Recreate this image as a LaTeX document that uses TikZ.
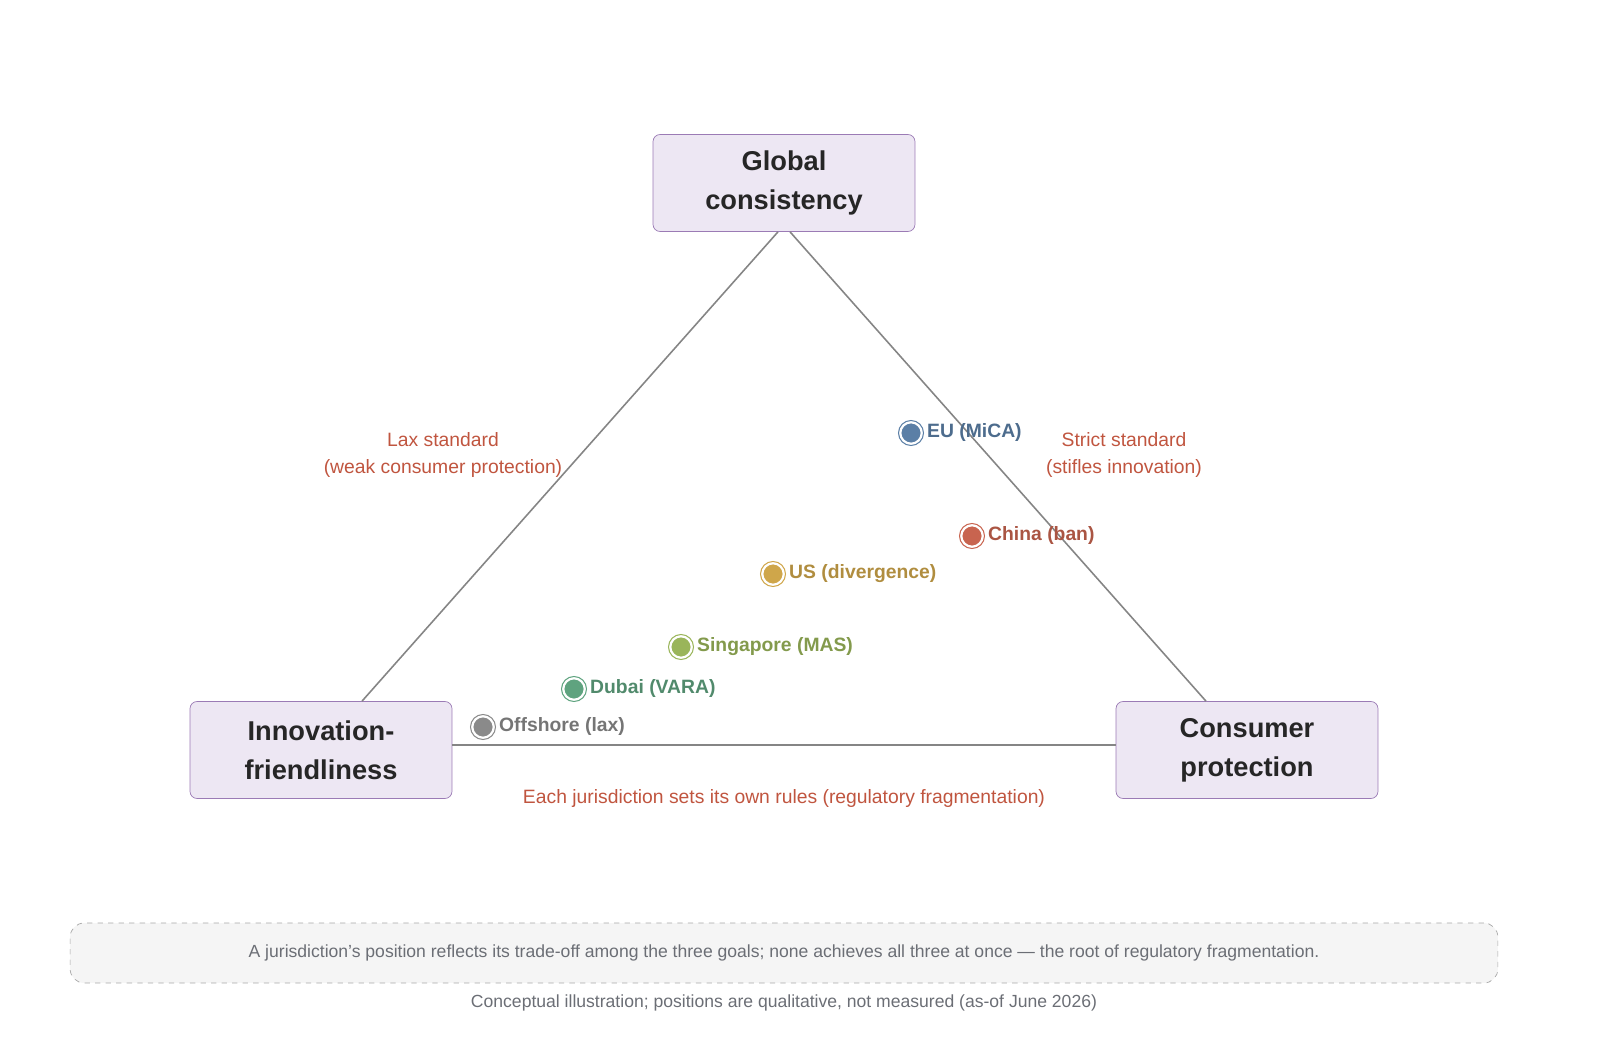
\documentclass[tikz,border=0pt]{standalone}
\usepackage{fontspec}
\setmainfont{Liberation Sans}
\usetikzlibrary{calc}
\definecolor{goalfill}{HTML}{EDE7F3}
\definecolor{goaldraw}{HTML}{9B7BB5}
\definecolor{edgegray}{HTML}{858585}
\definecolor{warnred}{HTML}{C0553F}
\definecolor{notegray}{HTML}{6B6E75}
\definecolor{eucol}{HTML}{5B7FA6}
\definecolor{cncol}{HTML}{C8644F}
\definecolor{uscol}{HTML}{CFA64A}
\definecolor{sgcol}{HTML}{9AB55A}
\definecolor{dbcol}{HTML}{5FA37F}
\definecolor{ofcol}{HTML}{8A8A8A}
\tikzset{
    goal/.style = {draw=goaldraw, fill=goalfill, rounded corners=4pt,
        minimum width=5.24cm, minimum height=1.94cm, align=center,
        font=\fontsize{15.5}{22}\selectfont\bfseries, text=black!85},
    side/.style = {draw=edgegray, line width=0.9pt},
    warn/.style = {text=warnred, align=center, font=\fontsize{11}{15}\selectfont},
    tag/.style = {anchor=west, text=#1!85!black, font=\fontsize{11}{13}\selectfont\bfseries}
}
\newcommand{\juris}[4]{%
    \node[circle, fill=#3, draw=white, line width=1pt, minimum size=0.42cm, inner sep=0pt] (#1) at (#2) {};
    \draw[#3, line width=0.6pt] (#1) circle (0.25cm);
    \node[tag=#3] (#1-tag) at ($(#1)+(10,0)$) {#4};}
\begin{document}
\begin{tikzpicture}[x=0.02cm, y=-0.02cm]
    \useasboundingbox (0,0) rectangle (1600,1054);
    % the three goals
    \node[goal] (glob) at (784,183) {Global\\consistency};
    \node[goal] (innov) at (321,750) {Innovation-\\friendliness};
    \node[goal] (cons) at (1247,750) {Consumer\\protection};
    \draw[side] ($(glob.south)+(-6,0)$) -- ($(innov.north)+(41,0)$);
    \draw[side] ($(glob.south)+(6,0)$) -- ($(cons.north)+(-41,0)$);
    \draw[side] ($(innov.east)+(0,-5)$) -- ($(cons.west)+(0,-5)$);
    % trade-off labels
    \node[warn] (lax) at (443,455) {Lax standard\\(weak consumer protection)};
    \node[warn] (strict) at (1124,455) {Strict standard\\(stifles innovation)};
    \node[warn] (frag) at (784,798) {Each jurisdiction sets its own rules (regulatory fragmentation)};
    % jurisdictions
    \juris{eu}{911,433}{eucol}{EU (MiCA)}
    \juris{cn}{972,536}{cncol}{China (ban)}
    \juris{us}{773,574}{uscol}{US (divergence)}
    \juris{sg}{681,647}{sgcol}{Singapore (MAS)}
    \juris{db}{574,689}{dbcol}{Dubai (VARA)}
    \juris{of}{483,727}{ofcol}{Offshore (lax)}
    % footer
    \node[draw=gray!70, dashed, fill=gray!8, rounded corners=8pt,
        minimum width=28.56cm, minimum height=1.2cm, text=notegray,
        font=\fontsize{10}{12}\selectfont] (note) at (784,953)
        {A jurisdiction's position reflects its trade-off among the three goals; none achieves all three at once — the root of regulatory fragmentation.};
    \node[text=notegray, font=\fontsize{10}{12}\selectfont] (caption) at (784,1003)
        {Conceptual illustration; positions are qualitative, not measured (as-of June 2026)};
\end{tikzpicture}
\end{document}
